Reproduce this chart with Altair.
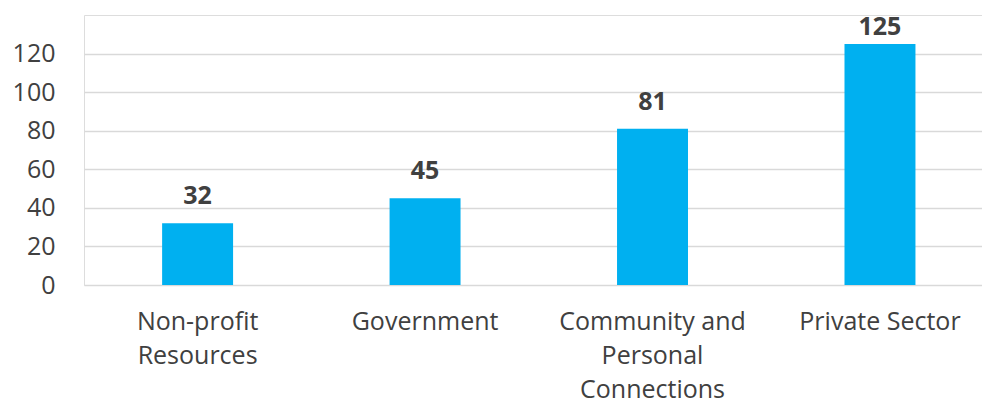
import altair as alt
import pandas as pd

categories = ["Non-profit|Resources", "Government", "Community and|Personal|Connections", "Private Sector"]
values = [32, 45, 81, 125]
y_ticks = [0, 20, 40, 60, 80, 100, 120]

df = pd.DataFrame({"category": categories, "value": values})

FONT = "Open Sans"
TEXT = "#404040"

x_axis = alt.Axis(
    title=None,
    labelAngle=0,
    labelExpr="split(datum.label, '|')",
    labelFont=FONT,
    labelFontSize=25,
    labelColor=TEXT,
    labelLineHeight=34,
    labelPadding=24,
    labelBaseline="top",
    labelLimit=400,
    ticks=False,
    domain=False,
    grid=False,
)

y_axis = alt.Axis(
    title=None,
    values=y_ticks,
    labelFont=FONT,
    labelFontSize=25,
    labelColor=TEXT,
    labelPadding=29,
    ticks=False,
    domain=False,
    grid=True,
    gridColor="#D9D9D9",
    gridWidth=1.5,
)

x_scale = alt.Scale(paddingInner=0.688, paddingOuter=0.318, align=0.54)
y_scale = alt.Scale(domain=[0, 140], nice=False)

bars = alt.Chart(df).mark_bar(color="#00B0F0").encode(
    x=alt.X("category:N", sort=categories, scale=x_scale, axis=x_axis),
    y=alt.Y("value:Q", scale=y_scale, axis=y_axis),
)

labels = alt.Chart(df).transform_calculate(
    label_pos="min(datum.value, 120)"
).mark_text(
    font=FONT, fontSize=25, fontWeight="bold", color=TEXT,
    baseline="alphabetic", dy=-19,
).encode(
    x=alt.X("category:N", sort=categories, scale=x_scale, axis=None),
    y=alt.Y("label_pos:Q", scale=y_scale, axis=None),
    text=alt.Text("value:Q"),
)

chart = alt.layer(bars, labels).resolve_axis(
    x="independent", y="independent"
).properties(
    width=898,
    height=270,
    autosize=alt.AutoSizeParams(type="none"),
    padding={"left": 84, "top": 15, "right": 0, "bottom": 118},
).configure_view(
    stroke="transparent", strokeWidth=0
).configure_axis(
    domainColor="transparent"
).configure(background="white")

chart.save("out.html", embed_options={"renderer": "svg", "actions": False})
